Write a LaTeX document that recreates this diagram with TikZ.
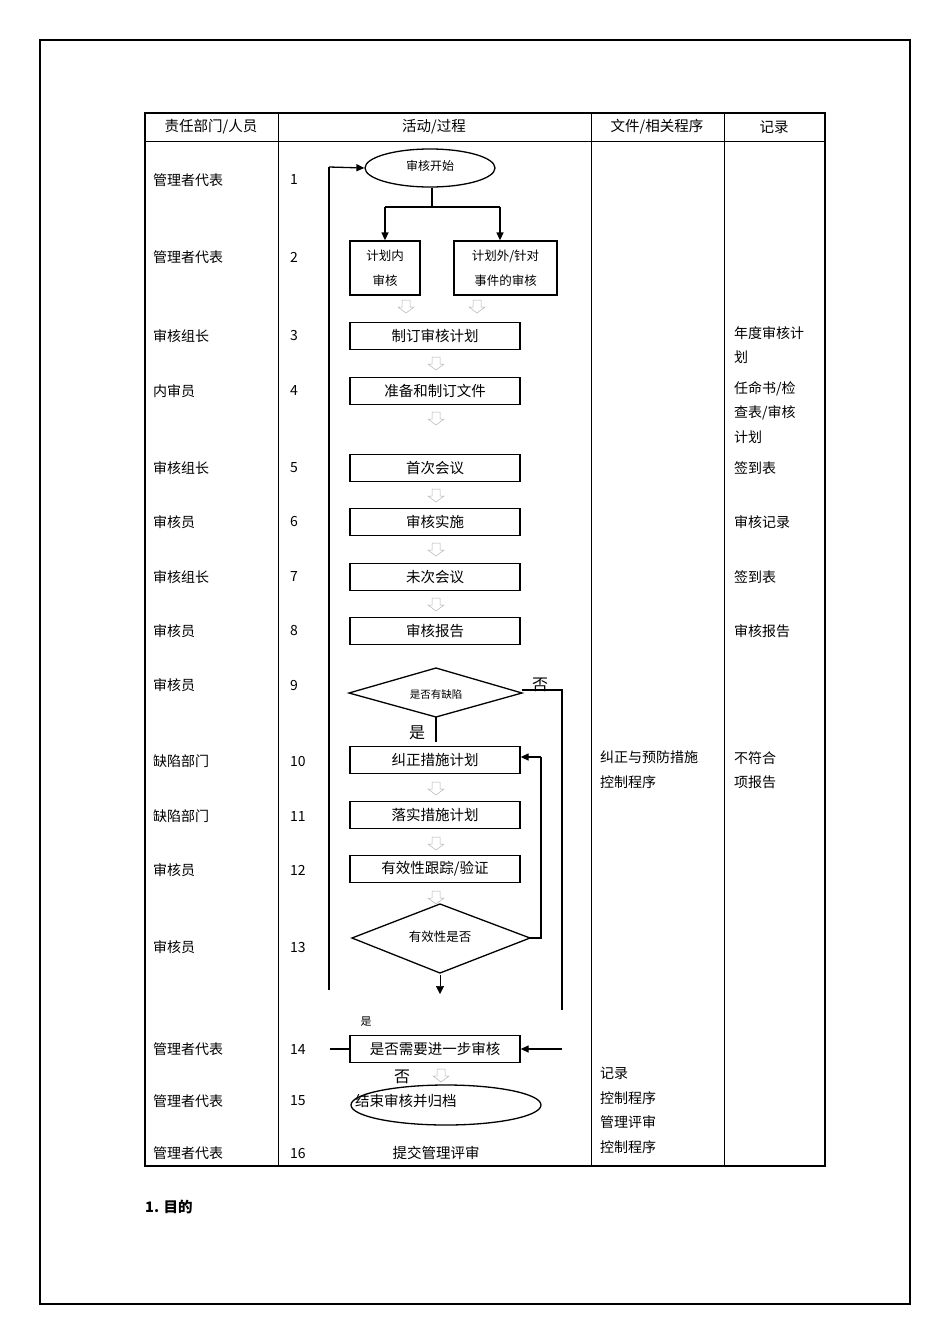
\documentclass[tikz,border=0pt]{standalone}
\usepackage{fontspec}
\setmainfont{Noto Sans CJK SC}
\usetikzlibrary{shapes.geometric,arrows.meta}
\begin{document}
\begin{tikzpicture}[x=1pt,y=-1pt,
  pbox/.style={draw,line width=1.3pt,minimum height=27pt,inner sep=0pt,font=\fontsize{14.5}{16}\selectfont},
  lbl/.style={font=\fontsize{14}{24.5}\selectfont,anchor=west,align=left,inner sep=0pt},
  num/.style={font=\fontsize{14.5}{16}\selectfont,inner sep=0pt},
  ln/.style={line width=1.3pt},
  arr/.style={ln,-{Triangle[length=8pt,width=7pt]}},
  hol/.style={draw=gray!60,line width=0.5pt}]
\useasboundingbox (0,0) rectangle (950,1344);
\draw[line width=1.5pt] (40,40) rectangle (910,1304);
% table
\draw[line width=1.3pt] (145,113) rectangle (825,1166);
\draw[line width=1pt] (145,141) -- (825,141);
\foreach \x in {278,591,724} \draw[line width=1pt] (\x,113) -- (\x,1166);
\node[num] at (211,127) {责任部门/人员};
\node[num] at (434,127) {活动/过程};
\node[num] at (657,127) {文件/相关程序};
\node[num] at (774,127) {记录};
% left column
\foreach \y/\t/\n in {180/管理者代表/1,257/管理者代表/2,336/审核组长/3,391/内审员/4,468/审核组长/5,522/审核员/6,577/审核组长/7,631/审核员/8,685/审核员/9,761/缺陷部门/10,816/缺陷部门/11,870/审核员/12,947/审核员/13,1049/管理者代表/14,1101/管理者代表/15,1153/管理者代表/16}{
  \node[lbl] at (153,\y) {\t};
  \node[lbl] at (290,\y) {\n};
}
% right columns
\node[lbl,anchor=north west] at (734,326) {年度审核计\\划};
\node[lbl,anchor=north west] at (734,381) {任命书/检\\查表/审核\\计划};
\node[lbl] at (734,468) {签到表};
\node[lbl] at (734,522) {审核记录};
\node[lbl] at (734,577) {签到表};
\node[lbl] at (734,631) {审核报告};
\node[lbl,anchor=north west] at (734,751) {不符合\\项报告};
\node[lbl,anchor=north west] at (600,751) {纠正与预防措施\\控制程序};
\node[lbl,anchor=north west] at (600,1067) {记录\\控制程序\\管理评审\\控制程序};
% flow shapes
\node[ellipse,draw,line width=1.3pt,minimum width=130pt,minimum height=38pt,inner sep=0pt,font=\fontsize{12}{14}\selectfont] (s) at (430,168) {\raisebox{6pt}{审核开始}};
\node[pbox,minimum width=70pt,minimum height=54pt,align=center,font=\fontsize{12.5}{25}\selectfont] (b2a) at (385,268) {计划内\\审核};
\node[pbox,minimum width=103pt,minimum height=54pt,align=center,font=\fontsize{12.5}{25}\selectfont] (b2b) at (505.5,268) {计划外/针对\\事件的审核};
\node[pbox,minimum width=170pt] (b3) at (435,336) {制订审核计划};
\node[pbox,minimum width=170pt] (b4) at (435,391) {准备和制订文件};
\node[pbox,minimum width=170pt] (b5) at (435,468) {首次会议};
\node[pbox,minimum width=170pt] (b6) at (435,522) {审核实施};
\node[pbox,minimum width=170pt] (b7) at (435,577) {未次会议};
\node[pbox,minimum width=170pt] (b8) at (435,631) {审核报告};
\draw[ln] (349,693) -- (436,668) -- (522,693) -- (436,717) -- cycle;
\node[font=\fontsize{10.5}{12}\selectfont] (d9) at (436,694) {是否有缺陷};
\node[pbox,minimum width=170pt] (b10) at (435,760) {纠正措施计划};
\node[pbox,minimum width=170pt] (b11) at (435,815) {落实措施计划};
\node[pbox,minimum width=170pt] (b12) at (435,869) {有效性跟踪/验证};
\draw[ln] (352,938) -- (440,904) -- (530,938) -- (440,973) -- cycle;
\node[font=\fontsize{12.5}{14}\selectfont] (d13) at (440,937) {有效性是否};
\node[pbox,minimum width=170pt] (b14) at (435,1049) {是否需要进一步审核};
\node[ellipse,draw,line width=1.3pt,minimum width=190pt,minimum height=40pt,inner sep=0pt] (e15) at (446,1105) {};
\node[num,anchor=west] (t15) at (355,1101) {结束审核并归档};
\node[num] (t16) at (436,1153) {提交管理评审};
% connectors
\coordinate (br) at (432,207);
\draw[ln] (s.south -| br) -- (br);
\draw[arr] (385,207) -- (b2a.north -| 385,0);
\draw[arr] (500,207) -- (b2b.north -| 500,0);
\draw[ln] (385,207) -- (500,207);
\draw[ln] (436,717) -- (436,742);
\node[num,font=\fontsize{16}{18}\selectfont] at (417,733) {是};
\node[num,font=\fontsize{16}{18}\selectfont] at (540,685) {否};
\draw[ln] (522,690) -- (562,690) -- (562,1010);
\draw[arr] (562,1049) -- (b14.east);
\draw[ln] (530,938) -- (541,938) -- (541,757);
\draw[arr] (541,757) -- (b10.east |- 0,757);
\draw[-{Triangle[length=8pt,width=8pt]},line width=0.5pt] (440,975) -- (440,994);
\draw[ln] (330,1049) -- (b14.west);
\draw[ln] (329,990) -- (329,167);
\draw[arr] (329,167) -- (s.west);
\node[font=\fontsize{11}{12}\selectfont] at (366,1022) {是};
\node[num,font=\fontsize{16}{18}\selectfont] at (402,1077) {否};
% hollow arrows
\foreach \x/\y in {406/300,477/300,436/357,436/412,436/489,436/543,436/598,436/782,436/837,436/891,441/1069}{
  \draw[hol] (\x-4,\y) -- (\x+4,\y) -- (\x+4,\y+7) -- (\x+8,\y+7) -- (\x,\y+13) -- (\x-8,\y+7) -- (\x-4,\y+7) -- cycle;
}
\node[font=\bfseries\fontsize{14.5}{16}\selectfont,anchor=west,inner sep=0pt] at (145,1207) {1. 目的};
\end{tikzpicture}
\end{document}
